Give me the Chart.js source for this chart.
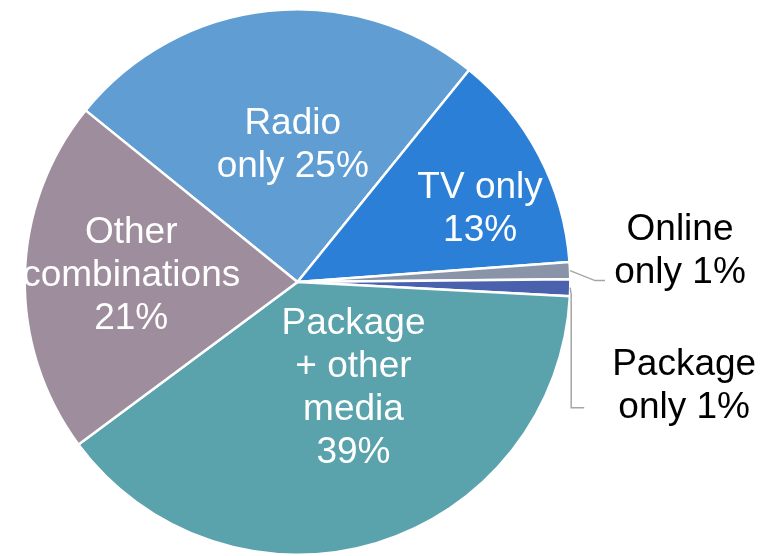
<!DOCTYPE html>
<html>
<head>
<meta charset="utf-8">
<script src="https://cdn.jsdelivr.net/npm/chart.js@4.4.0/dist/chart.umd.min.js"></script>
<style>
  html, body { margin: 0; padding: 0; background: #fff; }
  #wrap { width: 769px; height: 556px; }
</style>
</head>
<body>
<div id="wrap"><canvas id="piechart"></canvas></div>
<script>
var categories = ['Radio only', 'TV only', 'Online only', 'Package only', 'Package + other media', 'Other combinations'];
var shares = [25, 13, 1, 1, 39, 21];
var labelLines = [
    ['Radio', 'only 25%'],
    ['TV only', '13%'],
    ['Online', 'only 1%'],
    ['Package', 'only 1%'],
    ['Package', '+ other', 'media', '39%'],
    ['Other', 'combinations', '21%']
];
var sliceColors = ['#5f9dd2', '#2b7fd6', '#8a94a8', '#4a62ad', '#5aa3ad', '#9e8e9d'];

// label placement: inside labels by fraction of radius + angle nudge (deg),
// outside labels by offset from the slice edge, with leader elbow points
var labelPlace = [
    { inside: true, r: 0.5, da: 4 },
    { inside: true, r: 0.72, da: 6 },
    { inside: false, dx: 110, dy: -19, leader: [[25, 10], [35, 10]] },
    { inside: false, dx: 114, dy: 99, leader: [[1, 7], [1, 120], [14, 120]] },
    { inside: true, r: 0.44, da: -11 },
    { inside: true, r: 0.61, da: 0.8 }
];

var FONT = '37px "Liberation Sans", Arial, sans-serif';
var LINE_H = 43;

var pieLabels = {
    id: 'pieLabels',
    afterDatasetsDraw: function (chart) {
        var ctx = chart.ctx;
        var arcs = chart.getDatasetMeta(0).data;
        ctx.save();
        ctx.font = FONT;
        ctx.textAlign = 'center';
        ctx.textBaseline = 'middle';
        arcs.forEach(function (arc, i) {
            var p = arc.getProps(['x', 'y', 'startAngle', 'endAngle', 'outerRadius'], true);
            var mid = (p.startAngle + p.endAngle) / 2;
            var lines = labelLines[i];
            var place = labelPlace[i];
            var cx, cy;
            if (place.inside) {
                var a = mid + place.da * Math.PI / 180;
                cx = p.x + Math.cos(a) * p.outerRadius * place.r;
                cy = p.y + Math.sin(a) * p.outerRadius * place.r;
                ctx.fillStyle = '#ffffff';
            } else {
                var ex = p.x + Math.cos(mid) * p.outerRadius;
                var ey = p.y + Math.sin(mid) * p.outerRadius;
                ctx.strokeStyle = '#a6a6a6';
                ctx.lineWidth = 1.5;
                ctx.beginPath();
                ctx.moveTo(ex, ey);
                place.leader.forEach(function (pt) {
                    ctx.lineTo(ex + pt[0], ey + pt[1]);
                });
                ctx.stroke();
                cx = ex + place.dx;
                cy = ey + place.dy;
                ctx.fillStyle = '#000000';
            }
            var top = cy - (lines.length - 1) * LINE_H / 2;
            lines.forEach(function (t, k) {
                ctx.fillText(t, cx, top + k * LINE_H);
            });
        });
        ctx.restore();
    }
};

var piectx = document.getElementById('piechart').getContext('2d');
var piechart = new Chart(piectx, {
    type: 'pie',
    data: {
        labels: categories,
        datasets: [{
            data: shares,
            backgroundColor: sliceColors,
            borderColor: '#ffffff',
            borderWidth: 2.5
        }]
    },
    options: {
        responsive: true,
        maintainAspectRatio: false,
        animation: false,
        rotation: -51,
        layout: { padding: { left: 23, right: 197, top: 8, bottom: -1 } },
        plugins: {
            legend: { display: false },
            tooltip: { enabled: false }
        }
    },
    plugins: [pieLabels]
});
</script>
</body>
</html>
